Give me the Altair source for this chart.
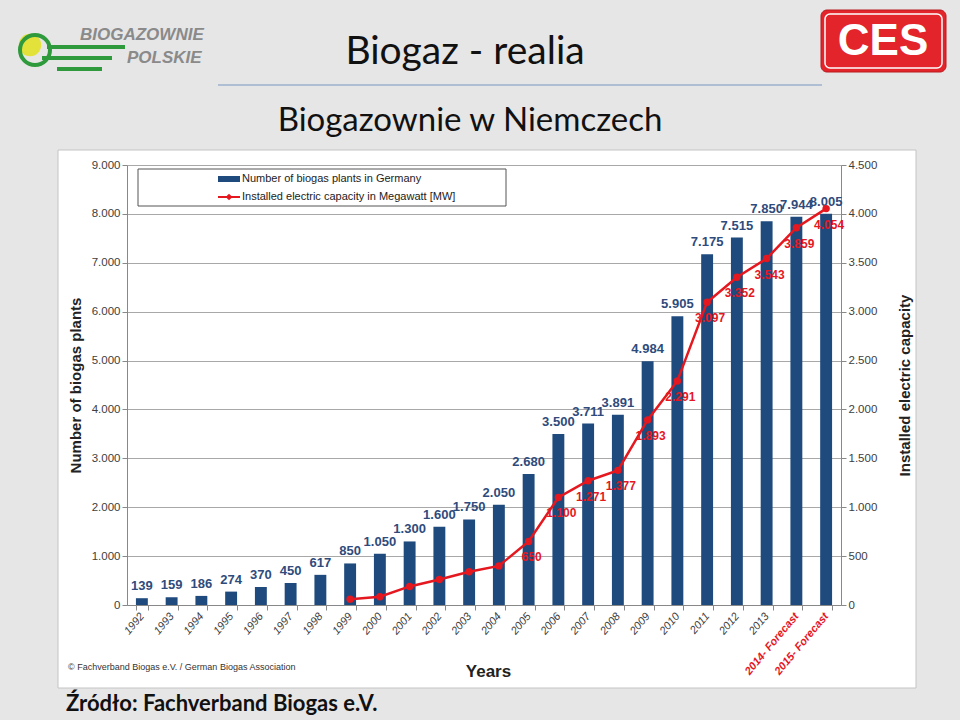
import altair as alt
import pandas as pd

# ---------------- data ----------------
years = ["1992", "1993", "1994", "1995", "1996", "1997", "1998", "1999", "2000",
         "2001", "2002", "2003", "2004", "2005", "2006", "2007", "2008", "2009",
         "2010", "2011", "2012", "2013", "2014- Forecast", "2015- Forecast"]
plants = [139, 159, 186, 274, 370, 450, 617, 850, 1050, 1300, 1600, 1750, 2050,
          2680, 3500, 3711, 3891, 4984, 5905, 7175, 7515, 7850, 7944, 8005]
capacity = [None, None, None, None, None, None, None, 60, 85, 190, 260, 340, 400,
            650, 1100, 1271, 1377, 1893, 2291, 3097, 3352, 3543, 3859, 4054]
capacity_labelled_years = ["2005", "2006", "2007", "2008", "2009", "2010", "2011",
                           "2012", "2013", "2014- Forecast", "2015- Forecast"]

df = pd.DataFrame({"year": years, "plants": plants, "capacity": capacity})
df["show_cap"] = df["year"].isin(capacity_labelled_years)

BLUE = "#1f4a7e"
BLUE_TXT = "#2f4b7c"
RED = "#e5171f"
FONT = "Liberation Sans"
W, H = 714, 440

fmt = "replace(format({v}, ','), ',', '.')"

x_enc = alt.X(
    "year:N", sort=years, title="Years",
    scale=alt.Scale(paddingInner=0.6, paddingOuter=0.3),
    axis=alt.Axis(
        labelAngle=-50, labelFontStyle="italic", labelFontSize=11, labelFont=FONT,
        labelColor={"condition": {"test": "indexof(datum.label, 'Forecast') >= 0", "value": RED},
                    "value": "#404040"},
        labelFontWeight={"condition": {"test": "indexof(datum.label, 'Forecast') >= 0", "value": "bold"},
                         "value": "normal"},
        labelAlign="right", labelBaseline="middle", labelPadding=4,
        tickBand="extent", ticks=True, tickSize=5, tickColor="#888888",
        domainColor="#888888", grid=False,
        titleFontSize=17, titleFontWeight="bold", titleColor="#222222", titleFont=FONT,
        titleY=58, titleX=361,
    ),
)

base = alt.Chart(df)

bars = base.mark_bar(color=BLUE).encode(
    x=x_enc,
    y=alt.Y("plants:Q", title="Number of biogas plants",
            scale=alt.Scale(domain=[0, 9000], nice=False),
            axis=alt.Axis(orient="left", values=list(range(0, 9001, 1000)),
                          labelExpr=fmt.format(v="datum.value"),
                          labelFontSize=11.5, labelColor="#404040", labelFont=FONT,
                          grid=True, gridColor="#a8a8a8", gridWidth=1,
                          domainColor="#888888", tickColor="#888888", tickSize=5,
                          titleFontSize=15, titleFontWeight="bold", titleColor="#222222",
                          titleFont=FONT, titleX=-52, titleY=H / 2, titleAngle=270,
                          titleAlign="center", titleBaseline="middle")),
)
bar_labels = base.transform_calculate(
    lab=fmt.format(v="datum.plants")
).mark_text(dy=-12, color=BLUE_TXT, fontWeight="bold", fontSize=13, font=FONT).encode(
    x=alt.X("year:N", sort=years),
    y=alt.Y("plants:Q"),
    text="lab:N",
)
left_layer = alt.layer(bars, bar_labels)

cap_y = alt.Y("capacity:Q", title="Installed electric capacity",
              scale=alt.Scale(domain=[0, 4500], nice=False),
              axis=alt.Axis(orient="right", values=list(range(0, 4501, 500)),
                            labelExpr=fmt.format(v="datum.value"),
                            labelFontSize=11.5, labelColor="#404040", labelFont=FONT,
                            grid=False, domainColor="#888888", tickColor="#888888",
                            tickSize=5, titleFontSize=15, titleFontWeight="bold",
                            titleColor="#222222", titleFont=FONT, titleX=63,
                            titleY=H / 2, titleAngle=270, titleAlign="center",
                            titleBaseline="middle"))
line = base.mark_line(color=RED, strokeWidth=2.5).encode(
    x=alt.X("year:N", sort=years), y=cap_y)
pts = base.mark_point(color=RED, filled=True, opacity=1, size=55).encode(
    x=alt.X("year:N", sort=years), y=alt.Y("capacity:Q"))
cap_labels = base.transform_filter("datum.show_cap").transform_calculate(
    lab=fmt.format(v="datum.capacity")
).mark_text(dy=16, dx=3, color=RED, fontWeight="bold", fontSize=12, font=FONT).encode(
    x=alt.X("year:N", sort=years), y=alt.Y("capacity:Q"), text="lab:N")
right_layer = alt.layer(line, pts, cap_labels)

# ---------------- decoration (slide) ----------------
one = pd.DataFrame({"a": [0]})
SLIDE = "#e6e6e6"


def box(x1, x2, y1, y2, **kw):
    return alt.Chart(one).mark_rect(**kw).encode(
        x=alt.value(x1), x2=alt.value(x2), y=alt.value(y1), y2=alt.value(y2))


def txt(s, x, y, **kw):
    return alt.Chart(one).mark_text(text=s, **kw).encode(x=alt.value(x), y=alt.value(y))


def hrule(x1, x2, y, **kw):
    return alt.Chart(one).mark_rule(**kw).encode(
        x=alt.value(x1), x2=alt.value(x2), y=alt.value(y))


deco = [
    box(-127, 833, -165, -15, color=SLIDE),
    box(-127, 833, 523, 555, color=SLIDE),
    box(-127, -69, -15, 523, color=SLIDE),
    box(789, 833, -15, 523, color=SLIDE),
    box(-69, 789, -15, 523, fill=None, filled=False, stroke="#c4c4c4", strokeWidth=1),
    # legend
    box(11, 379, 4, 41, fill="white", stroke="#555555", strokeWidth=1),
    box(91, 113, 11, 17, color=BLUE),
    txt("Number of biogas plants in Germany", 115, 14, align="left", baseline="middle",
        fontSize=11, font=FONT, color="#222222"),
    hrule(91, 113, 32, color=RED, strokeWidth=2),
    alt.Chart(one).mark_point(shape="diamond", filled=True, color=RED, opacity=1, size=45)
    .encode(x=alt.value(102), y=alt.value(32)),
    txt("Installed electric capacity in Megawatt [MW]", 115, 32, align="left",
        baseline="middle", fontSize=11, font=FONT, color="#222222"),
    # copyright
    txt("\u00a9 Fachverband Biogas e.V. / German Biogas Association", -59, 502,
        align="left", baseline="middle", fontSize=9, font=FONT, color="#333333"),
    # slide titles
    txt("Biogaz - realia", 338, -113, align="center", baseline="middle", fontSize=39,
        font="Lato", color="#111111"),
    hrule(91, 695, -80, color="#9db2cc", strokeWidth=1.5),
    txt("Biogazownie w Niemczech", 343, -44, align="center", baseline="middle",
        fontSize=33, font="Lato", color="#111111"),
    txt("\u0179r\u00f3d\u0142o: Fachverband Biogas e.V.", -61, 539, align="left",
        baseline="middle", fontSize=22, font="Lato", fontWeight="bold", color="#111111"),
    # left logo
    hrule(-80, -2, -118, color="#2e9a3c", strokeWidth=4),
    hrule(-85, -15, -107, color="#2e9a3c", strokeWidth=4),
    hrule(-70, -25, -96, color="#2e9a3c", strokeWidth=4),
    alt.Chart(one).mark_point(shape="circle", filled=True, color="#e2e23a", opacity=1, size=500)
    .encode(x=alt.value(-97), y=alt.value(-120)),
    alt.Chart(one).mark_point(shape="circle", filled=False, color="#2e9a3c", opacity=1,
                              size=900, strokeWidth=4)
    .encode(x=alt.value(-92), y=alt.value(-115)),
    txt("BIOGAZOWNIE", -47, -130, align="left", baseline="middle", fontSize=17,
        font=FONT, fontWeight="bold", fontStyle="italic", color="#8a8a8a"),
    txt("POLSKIE", 0, -107, align="left", baseline="middle", fontSize=17,
        font=FONT, fontWeight="bold", fontStyle="italic", color="#8a8a8a"),
    # CES logo
    box(694, 819, -155, -93, fill="#e3242b", stroke="#b81a20", strokeWidth=1, cornerRadius=6),
    box(698, 815, -151, -97, fill=None, filled=False, stroke="white", strokeWidth=1.5,
        cornerRadius=5),
    txt("CES", 756, -123, align="center", baseline="middle", fontSize=44, font=FONT,
        fontWeight="bold", color="white"),
]

chart = alt.layer(left_layer, right_layer, *deco).resolve_scale(y="independent").properties(
    width=W, height=H,
    autosize=alt.AutoSizeParams(type="none"),
    padding={"left": 127, "top": 165, "right": 119, "bottom": 115},
    background="white",
).configure_view(stroke=None)

chart.save("out.html", embed_options={"renderer": "svg", "actions": False})
